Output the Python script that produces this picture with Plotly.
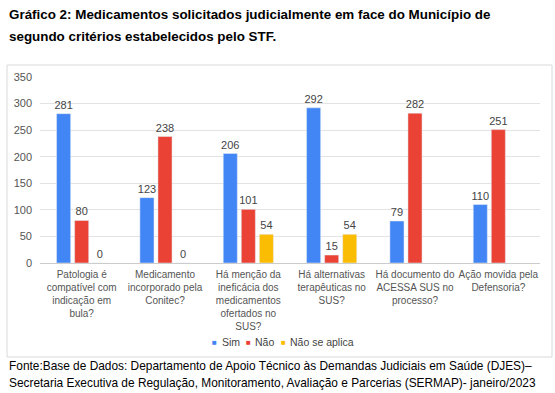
import plotly.graph_objects as go

categories = [
    "Patologia é<br>compatível com<br>indicação em<br>bula?",
    "Medicamento<br>incorporado pela<br>Conitec?",
    "Há menção da<br>ineficácia dos<br>medicamentos<br>ofertados no<br>SUS?",
    "Há alternativas<br>terapêuticas no<br>SUS?",
    "Há documento do<br>ACESSA SUS no<br>processo?",
    "Ação movida pela<br>Defensoria?",
]
sim = [281, 123, 206, 292, 79, 110]
nao = [80, 238, 101, 15, 282, 251]
nao_se_aplica = [0, 0, 54, 54, None, None]

series_names = ["Sim", "Não", "Não se aplica"]
colors = ["#4285F4", "#EA4335", "#FBBC04"]
y_ticks = [0, 50, 100, 150, 200, 250, 300, 350]

title_lines = ["Gráfico 2: Medicamentos solicitados judicialmente em face do Município de",
               "segundo critérios estabelecidos pelo STF."]
footer_lines = ["Fonte:Base de Dados: Departamento de Apoio Técnico às Demandas Judiciais em Saúde (DJES)–",
                "Secretaria Executiva de Regulação, Monitoramento, Avaliação e Parcerias (SERMAP)- janeiro/2023"]

FONT = "Liberation Sans, Arial, sans-serif"

fig = go.Figure()
for name, vals, col in zip(series_names, [sim, nao, nao_se_aplica], colors):
    fig.add_trace(go.Bar(
        x=categories, y=vals, name=name, marker_color=col,
        text=[("" if v is None else str(v)) for v in vals],
        textposition="outside", cliponaxis=False, constraintext="none",
        textfont=dict(family=FONT, size=11, color="#444444"),
        showlegend=False,
    ))

# plot area: x 40..540, y 77..263 in a 555x393 canvas
L, R, T, B = 40, 15, 77, 130
W, H = 555 - L - R, 393 - T - B

def px_x(x):
    return (x - L) / W

def px_y(y):
    return (393 - B - y) / H

annotations = []
for line, yc in zip(title_lines, [14, 37]):
    annotations.append(dict(text="<b>" + line + "</b>", xref="paper", yref="paper",
                            x=px_x(7), y=px_y(yc), xanchor="left", yanchor="middle",
                            showarrow=False, font=dict(family=FONT, size=13.4, color="#000000")))
for line, yc in zip(footer_lines, [366, 383]):
    annotations.append(dict(text=line, xref="paper", yref="paper",
                            x=px_x(7), y=px_y(yc), xanchor="left", yanchor="middle",
                            showarrow=False, font=dict(family=FONT, size=11.9, color="#000000")))

# legend (drawn as text annotations)
legend_sq_x = [214, 248, 283]
legend_tx_x = [220, 253, 288]
for name, col, sx, tx in zip(series_names, colors, legend_sq_x, legend_tx_x):
    annotations.append(dict(text="■", xref="paper", yref="paper", x=px_x(sx), y=px_y(342),
                            xanchor="center", yanchor="middle", showarrow=False,
                            font=dict(family=FONT, size=8, color=col)))
    annotations.append(dict(text=name, xref="paper", yref="paper", x=px_x(tx), y=px_y(342),
                            xanchor="left", yanchor="middle", showarrow=False,
                            font=dict(family=FONT, size=10.5, color="#444444")))

fig.update_layout(
    width=555, height=393,
    margin=dict(l=L, r=R, t=T, b=B, pad=0),
    paper_bgcolor="white", plot_bgcolor="white",
    barmode="group", bargap=0.35, bargroupgap=0.22,
    font=dict(family=FONT, size=11, color="#555555"),
    showlegend=False,
    xaxis=dict(showgrid=False, showline=False, ticks="", tickangle=0, ticklabelstandoff=4,
               tickfont=dict(family=FONT, size=10, color="#555555"), automargin=False),
    yaxis=dict(range=[0, 350], tickvals=y_ticks, showgrid=True, gridcolor="#e3e3e3",
               gridwidth=1, zeroline=True, zerolinecolor="#cccccc", zerolinewidth=1,
               showline=False, ticks="", ticklabelstandoff=7,
               tickfont=dict(family=FONT, size=11, color="#555555"), automargin=False),
    shapes=[dict(type="rect", xref="paper", yref="paper",
                 x0=px_x(7), x1=px_x(552), y0=px_y(357), y1=px_y(65),
                 line=dict(color="#d9d9d9", width=1), fillcolor="rgba(0,0,0,0)", layer="below")],
    annotations=annotations,
)

fig.write_html("out.html", config={"displayModeBar": False},
               post_script="document.body.style.margin='0';")
